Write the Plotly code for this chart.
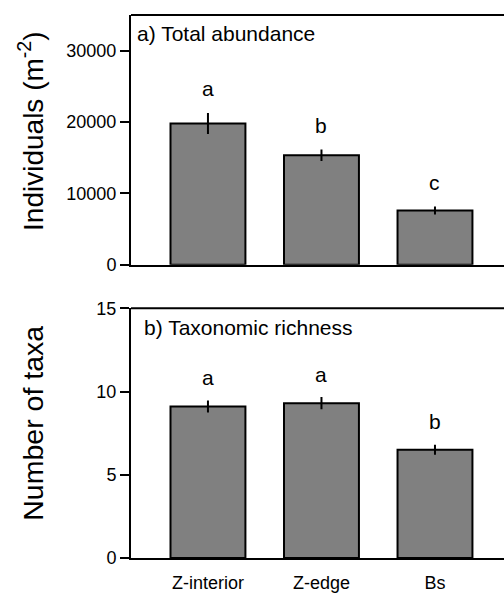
import plotly.graph_objects as go

categories = ["Z-interior", "Z-edge", "Bs"]
abundance = [19800, 15350, 7600]
abundance_err = [1470, 800, 550]
abundance_letters = ["a", "b", "c"]
abundance_ticks = [0, 10000, 20000, 30000]
abundance_ticktext = ["0", "10000", "20000", "30000"]
richness = [9.1, 9.3, 6.5]
richness_err = [0.36, 0.37, 0.3]
richness_letters = ["a", "a", "b"]
richness_ticks = [0, 5, 10, 15]
richness_ticktext = ["0", "5", "10", "15"]

FONT = "Liberation Sans, Arial, Helvetica, sans-serif"
xs = list(range(len(categories)))

fig = go.Figure()
bar_style = dict(marker=dict(color="#808080", line=dict(color="black", width=2)), width=0.66, showlegend=False)
fig.add_trace(go.Bar(x=xs, y=abundance, error_y=dict(type="data", array=abundance_err, color="black", thickness=2, width=0),
                     xaxis="x", yaxis="y", **bar_style))
fig.add_trace(go.Bar(x=xs, y=richness, error_y=dict(type="data", array=richness_err, color="black", thickness=2, width=0),
                     xaxis="x2", yaxis="y2", **bar_style))

xr = [-0.678, 2.608]
common_x = dict(range=xr, showline=True, linecolor="black", linewidth=2, showgrid=False, zeroline=False,
                ticks="", tickvals=xs, ticktext=categories, tickfont=dict(family=FONT, size=18, color="black"))
common_y = dict(showline=True, linecolor="black", linewidth=2, showgrid=False, zeroline=False,
                ticks="outside", ticklen=9, tickwidth=2, tickcolor="black",
                tickfont=dict(family=FONT, size=18, color="black"))

fig.update_layout(
    width=504, height=593,
    margin=dict(l=131, r=0, t=15, b=30),
    paper_bgcolor="white", plot_bgcolor="white",
    xaxis=dict(domain=[0, 1], anchor="y", showticklabels=False, **common_x),
    yaxis=dict(domain=[0.5401, 1], anchor="x", range=[0, 35000], tickvals=abundance_ticks,
               ticktext=abundance_ticktext, **common_y),
    xaxis2=dict(domain=[0, 1], anchor="y2", showticklabels=True, ticklabelstandoff=7, **common_x),
    yaxis2=dict(domain=[0, 0.4599], anchor="x2", range=[0, 15], tickvals=richness_ticks,
                ticktext=richness_ticktext, **common_y),
)

# top border lines
for xref, yref in [("x domain", "y domain"), ("x2 domain", "y2 domain")]:
    fig.add_shape(type="line", xref=xref, yref=yref, x0=0, x1=1, y0=1, y1=1,
                  line=dict(color="black", width=2))

# significance letters
for i, (v, e, l) in enumerate(zip(abundance, abundance_err, abundance_letters)):
    fig.add_annotation(x=i, y=v + e, xref="x", yref="y", text=l, showarrow=False,
                       yanchor="middle", yshift=24, font=dict(family=FONT, size=21, color="black"))
for i, (v, e, l) in enumerate(zip(richness, richness_err, richness_letters)):
    fig.add_annotation(x=i, y=v + e, xref="x2", yref="y2", text=l, showarrow=False,
                       yanchor="middle", yshift=23, font=dict(family=FONT, size=21, color="black"))

# panel labels
fig.add_annotation(x=0.012, y=0.9662, xref="paper", yref="paper", text="a) Total abundance", showarrow=False,
                   xanchor="left", yanchor="middle", font=dict(family=FONT, size=21, color="black"))
fig.add_annotation(x=0.030, y=0.4252, xref="paper", yref="paper", text="b) Taxonomic richness", showarrow=False,
                   xanchor="left", yanchor="middle", font=dict(family=FONT, size=21, color="black"))

# axis titles
fig.add_annotation(x=(31 - 131) / 373, y=(563 - 132) / 548, xref="paper", yref="paper",
                   text="Individuals (m<sup>-2</sup>)", textangle=-90, showarrow=False,
                   xanchor="center", yanchor="middle", font=dict(family=FONT, size=28, color="black"))
fig.add_annotation(x=(33 - 131) / 373, y=(563 - 427.5) / 548, xref="paper", yref="paper",
                   text="Number of taxa", textangle=-90, showarrow=False,
                   xanchor="center", yanchor="middle", font=dict(family=FONT, size=28.5, color="black"))

fig.write_html("out.html")
